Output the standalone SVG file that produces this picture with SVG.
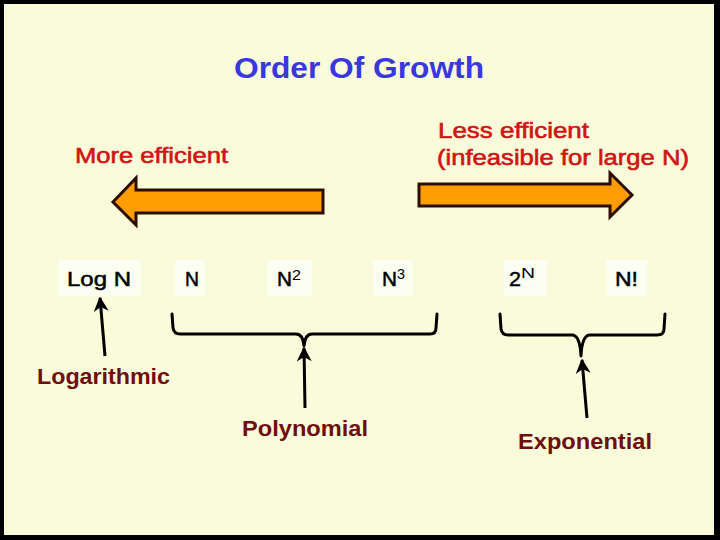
<svg xmlns="http://www.w3.org/2000/svg" width="720" height="540" viewBox="0 0 720 540">
<style>
text{font-family:"Liberation Sans",Arial,sans-serif}
.title{font-size:29px;fill:#3838DE;font-weight:bold}
.red{font-size:22px;fill:#D01414}
.term{font-size:21px;fill:#000}
.sup{font-size:14px;fill:#000}
.lab{font-size:22px;fill:#6E0E0E;font-weight:bold}
.box{fill:#FCFEF2}
.big{fill:#FF9C00;stroke:#2A0E00;stroke-width:3;stroke-linejoin:miter}
.br{fill:none;stroke:#000;stroke-width:3;stroke-linejoin:round;stroke-linecap:round}
.ptr{fill:none;stroke:#000;stroke-width:3}
</style>
<defs>
<marker id="ah" viewBox="0 0 10 10" refX="9" refY="5" markerWidth="5" markerHeight="5" orient="auto" markerUnits="strokeWidth">
<path d="M0,0 L10,5 L0,10 L3,5 Z" fill="#000"/>
</marker>
</defs>
<rect x="0" y="0" width="720" height="540" fill="#000"/>
<rect x="4" y="4" width="710" height="531" fill="#FAFBDA"/>

<g id="title"><text class="title" x="234" y="78" textLength="250" lengthAdjust="spacingAndGlyphs">Order Of Growth</text></g>

<g id="more-efficient">
<text class="red" x="75" y="163" textLength="153" lengthAdjust="spacingAndGlyphs" stroke="#D01414" stroke-width="0.6">More efficient</text>
<path class="big" d="M113,202 L136,178 L136,190 L323,190 L323,213 L136,213 L136,225 Z"/>
</g>
<g id="less-efficient">
<text class="red" x="438" y="138" textLength="151" lengthAdjust="spacingAndGlyphs" stroke="#D01414" stroke-width="0.6">Less efficient</text>
<text class="red" x="437" y="165" textLength="252" lengthAdjust="spacingAndGlyphs" stroke="#D01414" stroke-width="0.6">(infeasible for large N)</text>
<path class="big" d="M419,184 L610,184 L610,173 L632,195 L610,217 L610,206 L419,206 Z"/>
</g>

<g id="logn"><rect class="box" x="58" y="260" width="83" height="36"/><text class="term" x="67" y="286" textLength="64" lengthAdjust="spacingAndGlyphs" stroke="#000" stroke-width="0.5">Log N</text></g>
<g id="n"><rect class="box" x="175" y="260" width="30" height="36"/><text class="term" x="185" y="286" textLength="14" lengthAdjust="spacingAndGlyphs" stroke="#000" stroke-width="0.5">N</text></g>
<g id="n2"><rect class="box" x="267" y="260" width="45" height="36"/><text class="term" x="277" y="286" textLength="15" lengthAdjust="spacingAndGlyphs" stroke="#000" stroke-width="0.5">N</text><text class="sup" x="292" y="280" textLength="9" lengthAdjust="spacingAndGlyphs">2</text></g>
<g id="n3"><rect class="box" x="373" y="260" width="40" height="36"/><text class="term" x="382" y="286" textLength="15" lengthAdjust="spacingAndGlyphs" stroke="#000" stroke-width="0.5">N</text><text class="sup" x="397" y="279" textLength="8" lengthAdjust="spacingAndGlyphs">3</text></g>
<g id="twon"><rect class="box" x="504" y="260" width="43" height="36"/><text class="term" x="509" y="286" textLength="12" lengthAdjust="spacingAndGlyphs" stroke="#000" stroke-width="0.5">2</text><text class="sup" x="521" y="278" textLength="14" lengthAdjust="spacingAndGlyphs">N</text></g>
<g id="nfact"><rect class="box" x="606" y="260" width="41" height="36"/><text class="term" x="615" y="286" textLength="23" lengthAdjust="spacingAndGlyphs" stroke="#000" stroke-width="0.5">N!</text></g>

<g id="poly-bracket"><path class="br" d="M172,314 L173,328 Q174,334 180,334 L296,334 Q303,334 304,346 Q305,334 312,334 L430,334 Q436,334 436,328 L437,314"/></g>
<g id="exp-bracket"><path class="br" d="M500,314 L501,329 Q502,335 508,335 L572,335 Q580,335 581,356 Q582,335 590,335 L657,335 Q664,335 664,329 L665,314"/></g>

<g id="logarithmic"><text class="lab" x="37" y="384" textLength="133" lengthAdjust="spacingAndGlyphs">Logarithmic</text></g>
<g id="polynomial"><text class="lab" x="242" y="436" textLength="126" lengthAdjust="spacingAndGlyphs">Polynomial</text></g>
<g id="exponential"><text class="lab" x="518" y="449" textLength="134" lengthAdjust="spacingAndGlyphs">Exponential</text></g>

<g id="connectors">
<line class="ptr" x1="105" y1="356" x2="100" y2="298" marker-end="url(#ah)"/>
<line class="ptr" x1="305" y1="408" x2="304" y2="348" marker-end="url(#ah)"/>
<line class="ptr" x1="587" y1="418" x2="582" y2="360" marker-end="url(#ah)"/>
</g>
</svg>
